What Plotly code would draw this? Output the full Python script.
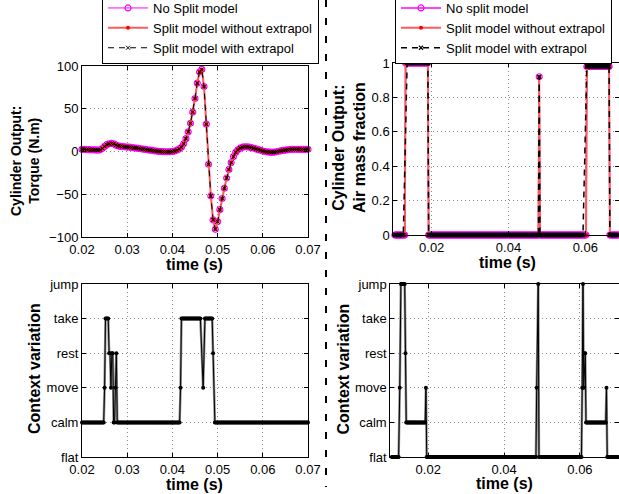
import numpy as np
import plotly.graph_objects as go

FONT = "Liberation Sans, Arial, Helvetica, sans-serif"
W, H = 619, 494

# ---------------- data ----------------
# Top-left: torque (N.m), sampled every 0.5 ms from 0.020 s
torque_t_start = 0.020
torque_t_step = 0.0005
torque_nosplit = [2.5, 2.5, 2.3, 2.2, 2.0, 2.0, 1.8, 1.6, 2.0, 3.5,
                  6.0, 8.0, 9.0, 9.5, 9.0, 7.5, 6.5, 6.0, 5.8, 5.5,
                  5.2, 5.0, 4.6, 4.3, 4.0, 3.6, 3.2, 2.8, 2.4, 2.0,
                  1.6, 1.2, 0.8, 0.5, 0.2, 0.0, -0.2, -0.3, -0.3, -0.2,
                  0.0, 0.5, 1.5, 3.0, 5.0, 9.0, 15, 23, 33, 46,
                  62, 80, 93, 96, 76, 32, -15, -52, -80, -91,
                  -82, -68, -55, -43, -31, -21, -13, -6, -1, 2,
                  4, 5, 5.5, 5.5, 5.0, 4.5, 3.8, 3.0, 2.2, 1.4,
                  0.6, 0.0, -0.5, -0.8, -1.0, -0.8, -0.3, 0.3, 0.8, 1.2,
                  1.6, 2.0, 2.3, 2.5, 2.6, 2.6, 2.5, 2.4, 2.4, 2.5, 2.6]
torque_split = list(torque_nosplit)
torque_extrapol = list(torque_nosplit)

# Top-right: air mass fraction, constant segments (t_start, t_end, value)
air_nosplit_segments = [(0.0104, 0.0130, 0.0), (0.0132, 0.0190, 1.0),
                        (0.0192, 0.0478, 0.0), (0.0480, 0.0480, 0.92),
                        (0.0482, 0.0602, 0.0), (0.0604, 0.0662, 0.98),
                        (0.0664, 0.0700, 0.0)]
air_split_segments = [(0.0104, 0.0130, 0.0), (0.0132, 0.0190, 1.0),
                      (0.0192, 0.0478, 0.0), (0.0480, 0.0480, 0.92),
                      (0.0482, 0.0602, 0.0), (0.0604, 0.0662, 0.98),
                      (0.0664, 0.0700, 0.0)]
air_extrapol_segments = [(0.0104, 0.0126, 0.0), (0.0136, 0.0190, 1.0),
                         (0.0192, 0.0478, 0.0), (0.0480, 0.0480, 0.92),
                         (0.0482, 0.0594, 0.0), (0.0604, 0.0662, 0.98),
                         (0.0664, 0.0700, 0.0)]

# Context levels
context_labels = ["flat", "calm", "move", "rest", "take", "jump"]
ctx_left_segments = [(0.0200, 0.0248, 1), (0.0250, 0.0250, 2), (0.0252, 0.0258, 4),
                     (0.0260, 0.0262, 3), (0.0264, 0.0264, 2), (0.0266, 0.0268, 3),
                     (0.0270, 0.0272, 1), (0.0274, 0.0274, 2), (0.0276, 0.0276, 3),
                     (0.0278, 0.0416, 1), (0.0418, 0.0418, 2), (0.0420, 0.0462, 4),
                     (0.0468, 0.0468, 2), (0.0472, 0.0488, 4), (0.0490, 0.0490, 3),
                     (0.0494, 0.0700, 1)]
ctx_right_segments = [(0.0104, 0.0122, 0), (0.0125, 0.0125, 2), (0.0128, 0.0138, 5),
                      (0.0140, 0.0140, 3), (0.0142, 0.0192, 1), (0.0194, 0.0194, 2),
                      (0.0196, 0.0484, 0), (0.0486, 0.0486, 2), (0.0490, 0.0490, 5),
                      (0.0492, 0.0604, 0), (0.0606, 0.0606, 2), (0.0608, 0.0608, 5),
                      (0.0610, 0.0610, 2), (0.0612, 0.0614, 3), (0.0616, 0.0668, 1),
                      (0.0670, 0.0670, 2), (0.0672, 0.0700, 0)]

SEG_STEP = 0.0002


def expand(segments, step=SEG_STEP):
    ts, vs = [], []
    for t0, t1, val in segments:
        n = int(round((t1 - t0) / step)) + 1
        ts.extend(list(np.round(t0 + step * np.arange(n), 6)))
        vs.extend([val] * n)
    return ts, vs


time_torque = list(np.round(torque_t_start + torque_t_step * np.arange(len(torque_nosplit)), 6))

# ---------------- figure ----------------
fig = go.Figure()


def dom_x(a, b):
    return [a / W, min(b / W, 1.0)]


def dom_y(top, bottom):
    return [1 - bottom / H, 1 - top / H]


MAG = "#ff00ff"
REDL = "#ff5a5a"
RED = "#ff0000"

# top-left traces
fig.add_trace(go.Scatter(x=time_torque, y=torque_nosplit, mode="lines+markers",
                         name="No Split model", legend="legend",
                         line=dict(color=MAG, width=1),
                         marker=dict(symbol="circle-open", size=6, color=MAG, line=dict(width=1.2, color=MAG)),
                         cliponaxis=False, xaxis="x", yaxis="y"))
fig.add_trace(go.Scatter(x=time_torque, y=torque_split, mode="lines+markers",
                         name="Split model without extrapol", legend="legend",
                         line=dict(color=REDL, width=2),
                         marker=dict(symbol="circle", size=4, color=RED),
                         cliponaxis=False, xaxis="x", yaxis="y"))
fig.add_trace(go.Scatter(x=time_torque, y=torque_extrapol, mode="lines+markers",
                         name="Split model with extrapol", legend="legend",
                         line=dict(color="black", width=1, dash="6px,5px"),
                         marker=dict(symbol="x-thin-open", size=4, color="black", line=dict(width=1, color="black")),
                         cliponaxis=False, xaxis="x", yaxis="y"))

# top-right traces
t_a, v_a = expand(air_nosplit_segments)
t_b, v_b = expand(air_split_segments)
t_c, v_c = expand(air_extrapol_segments)
fig.add_trace(go.Scatter(x=t_a, y=v_a, mode="lines+markers", name="No split model", legend="legend2",
                         line=dict(color=MAG, width=1.5),
                         marker=dict(symbol="circle-open", size=6, color=MAG, line=dict(width=1.2, color=MAG)),
                         cliponaxis=False, xaxis="x2", yaxis="y2"))
fig.add_trace(go.Scatter(x=t_b, y=v_b, mode="lines+markers", name="Split model without extrapol", legend="legend2",
                         line=dict(color=REDL, width=2),
                         marker=dict(symbol="circle", size=4, color=RED),
                         cliponaxis=False, xaxis="x2", yaxis="y2"))
fig.add_trace(go.Scatter(x=t_c, y=v_c, mode="lines+markers", name="Split model with extrapol", legend="legend2",
                         line=dict(color="black", width=1.5, dash="6px,5px"),
                         marker=dict(symbol="x-thin-open", size=4, color="black", line=dict(width=1.2, color="black")),
                         cliponaxis=False, xaxis="x2", yaxis="y2"))

# bottom traces (context)
for segs, xa, ya in [(ctx_left_segments, "x3", "y3"), (ctx_right_segments, "x4", "y4")]:
    tt, vv = expand(segs)
    fig.add_trace(go.Scatter(x=tt, y=vv, mode="lines", showlegend=False,
                             line=dict(color="#8c8c8c", width=2.5), xaxis=xa, yaxis=ya))
    fig.add_trace(go.Scatter(x=tt, y=vv, mode="lines+markers", showlegend=False,
                             line=dict(color="black", width=1),
                             marker=dict(symbol="circle", size=4, color="black"),
                             cliponaxis=False, xaxis=xa, yaxis=ya))


def axis(**kw):
    d = dict(showline=True, linecolor="black", linewidth=1, mirror="ticks",
             ticks="inside", ticklen=4, tickcolor="black",
             showgrid=True, gridcolor="#8a8a8a", griddash="1px,3px", gridwidth=1,
             zeroline=False, tickfont=dict(family=FONT, size=13, color="black"))
    d.update(kw)
    return d


x_ticks_l = [0.02, 0.03, 0.04, 0.05, 0.06, 0.07]
x_ticks_r = [0.02, 0.04, 0.06]

fig.update_layout(
    width=W, height=H, margin=dict(l=0, r=0, t=0, b=0, autoexpand=False),
    paper_bgcolor="white", plot_bgcolor="white",
    font=dict(family=FONT, color="black"),
    xaxis=axis(domain=dom_x(82, 308), range=[0.02, 0.07], tickvals=x_ticks_l,
               ticktext=[f"{v:.2f}" for v in x_ticks_l], anchor="y"),
    yaxis=axis(domain=dom_y(66, 237), range=[-100, 100], tickvals=[-100, -50, 0, 50, 100], anchor="x"),
    xaxis2=axis(domain=dom_x(393.3, 619), range=[0.01, 0.06878], tickvals=x_ticks_r,
                ticktext=[f"{v:.2f}" for v in x_ticks_r], anchor="y2"),
    yaxis2=axis(domain=dom_y(63, 235), range=[0, 1], tickvals=[0, 0.2, 0.4, 0.6, 0.8, 1],
                ticktext=["0", "0.2", "0.4", "0.6", "0.8", "1"], anchor="x2"),
    xaxis3=axis(domain=dom_x(82, 308), range=[0.02, 0.07], tickvals=x_ticks_l,
                ticktext=[f"{v:.2f}" for v in x_ticks_l], anchor="y3"),
    yaxis3=axis(domain=dom_y(284, 457), range=[0, 5], tickvals=list(range(6)),
                ticktext=context_labels, anchor="x3"),
    xaxis4=axis(domain=dom_x(390.3, 619), range=[0.01, 0.0703], tickvals=x_ticks_r,
                ticktext=[f"{v:.2f}" for v in x_ticks_r], anchor="y4"),
    yaxis4=axis(domain=dom_y(284, 457), range=[0, 5], tickvals=list(range(6)),
                ticktext=context_labels, anchor="x4"),
    legend=dict(x=102 / W, y=1 - 64 / H, xanchor="left", yanchor="bottom",
                bgcolor="white", bordercolor="black", borderwidth=1, itemwidth=40,
                font=dict(family=FONT, size=13, color="black"), tracegroupgap=0),
    legend2=dict(x=395 / W, y=1 - 64 / H, xanchor="left", yanchor="bottom",
                 bgcolor="white", bordercolor="black", borderwidth=1, itemwidth=40,
                 font=dict(family=FONT, size=13, color="black"), tracegroupgap=0),
)


def title(text, x, y, size=16, angle=0):
    fig.add_annotation(text=f"<b>{text}</b>", x=x / W, y=1 - y / H, xref="paper", yref="paper",
                       showarrow=False, textangle=angle, xanchor="center", yanchor="middle",
                       font=dict(family=FONT, size=size, color="black"))


title("Cylinder Output:<br>Torque (N.m)", 25, 161, size=14, angle=-90)
title("time (s)", 194.5, 264)
title("Cylinder Output:<br>Air mass fraction", 349, 148, angle=-90)
title("time (s)", 507, 262)
title("Context variation", 34, 369, angle=-90)
title("time (s)", 194.5, 484)
title("Context variation", 342.5, 369, angle=-90)
title("time (s)", 504, 483)

# dashed vertical separator
fig.add_shape(type="line", xref="paper", yref="paper", x0=326 / W, x1=326 / W,
              y0=1.0, y1=1 - 487 / H, line=dict(color="black", width=2, dash="7px,11px"))

fig.write_html("out.html", config={"displayModeBar": False},
               post_script="document.body.style.margin='0px';")
